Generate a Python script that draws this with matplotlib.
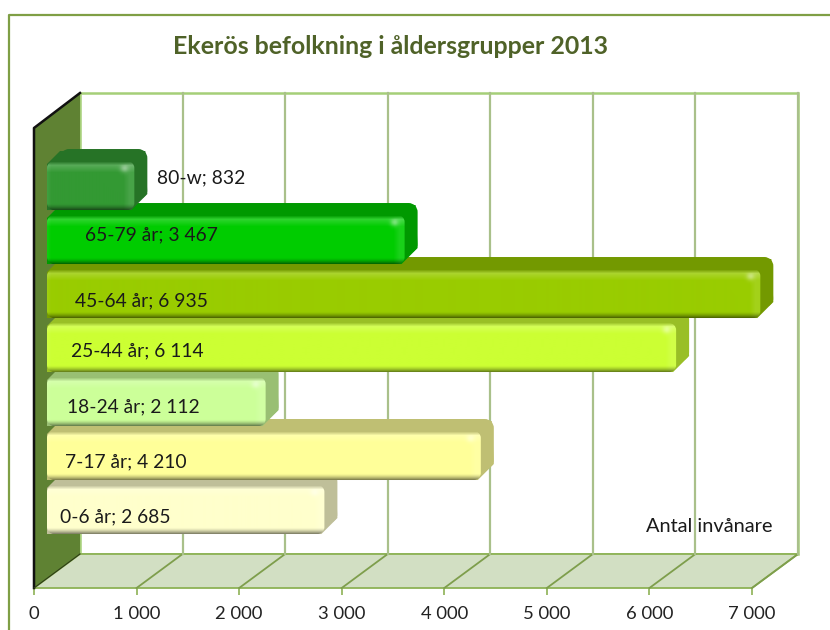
import numpy as np
import matplotlib
matplotlib.use("Agg")
import matplotlib.pyplot as plt
from matplotlib.patches import PathPatch, Polygon
from matplotlib.lines import Line2D
from matplotlib.path import Path
from matplotlib.transforms import IdentityTransform
from matplotlib.colors import to_rgb

categories = ["0-6 år", "7-17 år", "18-24 år", "25-44 år", "45-64 år", "65-79 år", "80-w"]
values = [2685, 4210, 2112, 6114, 6935, 3467, 832]
value_labels = ["2 685", "4 210", "2 112", "6 114", "6 935", "3 467", "832"]
face_colors = ["#FFFFCC", "#FFFF99", "#CCFF99", "#CCFF33", "#99CC00", "#00CC00", "#339933"]
side_colors = ["#BFBF99", "#BFBF73", "#99BF73", "#99BF26", "#739900", "#009900", "#267326"]
label_px = [60, 65, 67, 71, 75, 85, 157]
label_dy = [8, 7, 6, 4, 8, -4, -7]
xticks = [0, 1000, 2000, 3000, 4000, 5000, 6000, 7000]
xticklabels = ["0", "1 000", "2 000", "3 000", "4 000", "5 000", "6 000", "7 000"]

W, H = 830, 630
plt.rcParams["font.family"] = ["Lato", "DejaVu Sans"]
fig = plt.figure(figsize=(W / 100, H / 100), dpi=100, facecolor="white")
ax = fig.add_axes([34 / W, 1 - 588 / H, (752 - 34) / W, (588 - 128) / H])
ax.set_xlim(0, 7000)
ax.set_ylim(-1.463, 7.056)
ax.patch.set_visible(False)
for s in ax.spines.values():
    s.set_visible(False)
ax.set_yticks([])
ax.set_xticks(xticks, xticklabels, fontsize=13.3, color="#222222")
ax.tick_params(axis="x", length=5, width=1.2, color="#8DB255", pad=8)

ID = IdentityTransform()
def P(x, y):
    """top-left pixel position to display coordinates"""
    return (x, H - y)
def vx(v):
    return ax.transData.transform((v, 0))[0]
def cy(i):
    return H - ax.transData.transform((0, i))[1]

DX, DY = 46, 34
x0, x1 = vx(0), vx(7000)
yb, yt = 588, 128

# walls
ax.add_patch(Polygon([P(x0 + DX, yt - 35), P(x1 + DX, yt - 35), P(x1 + DX, yb - DY), P(x0 + DX, yb - DY)],
                     closed=True, fc="white", ec="#A5CF78", lw=1.8, transform=ID, clip_on=False, zorder=1))
ax.add_patch(Polygon([P(x0, yb), P(x1, yb), P(x1 + DX, yb - DY), P(x0 + DX, yb - DY)],
                     closed=True, fc="#D2DFC3", ec="#8DB255", lw=1.3, transform=ID, clip_on=False, zorder=1.5))
for t in xticks[1:]:
    xx = vx(t)
    ax.plot([P(xx, yb)[0], P(xx + DX, yb - DY)[0]], [P(xx, yb)[1], P(xx + DX, yb - DY)[1]],
            color="#7E9E4C", lw=1.3, transform=ID, clip_on=False, zorder=1.6)
    ax.plot([xx + DX, xx + DX], [H - (yb - DY), H - (yt - 35)],
            color="#A9C08A", lw=1.6, transform=ID, clip_on=False, zorder=1.6)
ax.add_patch(Polygon([P(x0, yt), P(x0 + DX, yt - 35), P(x0 + DX, yb - DY), P(x0, yb)],
                     closed=True, fc="#5F8233", ec="none", transform=ID, clip_on=False, zorder=2))
ax.plot([P(x0, yb)[0], P(x0, yt)[0], P(x0 + DX, yt - 35)[0]],
        [P(x0, yb)[1], P(x0, yt)[1], P(x0 + DX, yt - 35)[1]],
        color="#111111", lw=1.8, transform=ID, clip_on=False, zorder=2.1)
ax.plot([P(x0, yb)[0], P(x0 + DX, yb - DY)[0]], [P(x0, yb)[1], P(x0 + DX, yb - DY)[1]],
        color="#2B3B15", lw=0.8, transform=ID, clip_on=False, zorder=2.1)

def rounded(l, t, r, b, rad):
    """Rounded rectangle path in display coordinates (pixel values top-left based)."""
    k = rad * 0.45
    pts = [(l + rad, t), (r - rad, t), (r - k, t), (r, t + k), (r, t + rad), (r, b - rad), (r, b - k), (r - k, b),
           (r - rad, b), (l + rad, b), (l + k, b), (l, b - k), (l, b - rad), (l, t + rad), (l, t + k), (l + k, t),
           (l + rad, t), (l + rad, t)]
    codes = [Path.MOVETO, Path.LINETO, Path.CURVE4, Path.CURVE4, Path.CURVE4, Path.LINETO, Path.CURVE4, Path.CURVE4,
             Path.CURVE4, Path.LINETO, Path.CURVE4, Path.CURVE4, Path.CURVE4, Path.LINETO, Path.CURVE4, Path.CURVE4,
             Path.CURVE4, Path.CLOSEPOLY]
    return Path([P(*p) for p in pts], codes)

START = 13   # bars stand this far in front of the back wall
D = 13       # visible bar depth in pixels
for i, (v, fc, sc) in enumerate(zip(values, face_colors, side_colors)):
    z = 3 + i * 0.1
    bottom = cy(i) + 25
    top = bottom - 49
    l = x0 + START
    r = vx(v) + START + 2
    # depth body (top and right faces)
    ax.add_patch(PathPatch(rounded(l + D, top - 12, r + D, bottom - 11, 9), fc=sc, ec="none",
                           transform=ID, clip_on=False, zorder=z))
    ax.add_patch(Polygon([P(l, top + 3), P(l + D, top - 10), P(r + D - 2, top - 10), P(r + D, bottom - 16),
                          P(r - 3, bottom), P(l, bottom)], closed=True, fc=sc, ec="none",
                         transform=ID, clip_on=False, zorder=z))
    # shaded front face
    w, h = int(round(r - l)), int(round(bottom - top))
    base = np.array(to_rgb(fc))
    side = np.array(to_rgb(sc))
    img = np.tile(base, (h, w, 1))
    yy = np.arange(h)[:, None]
    xx = np.arange(w)[None, :]
    light = np.clip((11 - yy) / 8, 0, 1) * 0.2 + np.clip((11 - (w - 1 - xx)) / 6, 0, 1) * 0.1 \
        + np.clip((4 - xx) / 4, 0, 1) * 0.06
    spot = np.exp(-(((w - 11 - xx) / 4.0) ** 2 + ((yy - 7) / 4.0) ** 2)) * 0.35
    dark = np.clip((yy - (h - 7)) / 7, 0, 1) ** 1.5 * 0.6
    img = img + (1 - img) * np.clip(light + spot, 0, 1)[..., None]
    fade = np.clip((4 - yy) / 4, 0, 1)[..., None]
    img = img * (1 - fade) + side * fade
    img = img * (1 - dark)[..., None]
    inv = ax.transData.inverted()
    (dl, db), (dr, dt) = inv.transform([P(l, bottom), P(r, top)])
    im = ax.imshow(img, extent=(dl, dr, db, dt), aspect="auto", origin="upper",
                   interpolation="bilinear", zorder=z + 0.01)
    im.set_clip_box(fig.bbox)
    im.set_clip_path(PathPatch(rounded(l, top, r, bottom, 7), transform=ID))
    # data label
    ax.text(label_px[i], H - (cy(i) + label_dy[i]), f"{categories[i]}; {value_labels[i]}",
            transform=ID, ha="left", va="center", fontsize=13.9, color="#1A1A1A", zorder=5, clip_on=False)
ax.set_xlim(0, 7000)
ax.set_ylim(-1.463, 7.056)

fig.text(390 / W, 1 - 47 / H, "Ekerös befolkning i åldersgrupper 2013", ha="center", va="center",
         fontsize=17.9, fontweight="bold", color="#4F6228")
fig.text(772 / W, 1 - 527 / H, "Antal invånare", ha="right", va="center", fontsize=14.4, color="#1A1A1A")
fig.add_artist(Line2D([9 / W, 9 / W, 1], [0, 1 - 14.5 / H, 1 - 14.5 / H], transform=fig.transFigure,
                      color="#7F9F45", lw=1.6))
fig.savefig("out.png", dpi=100)
